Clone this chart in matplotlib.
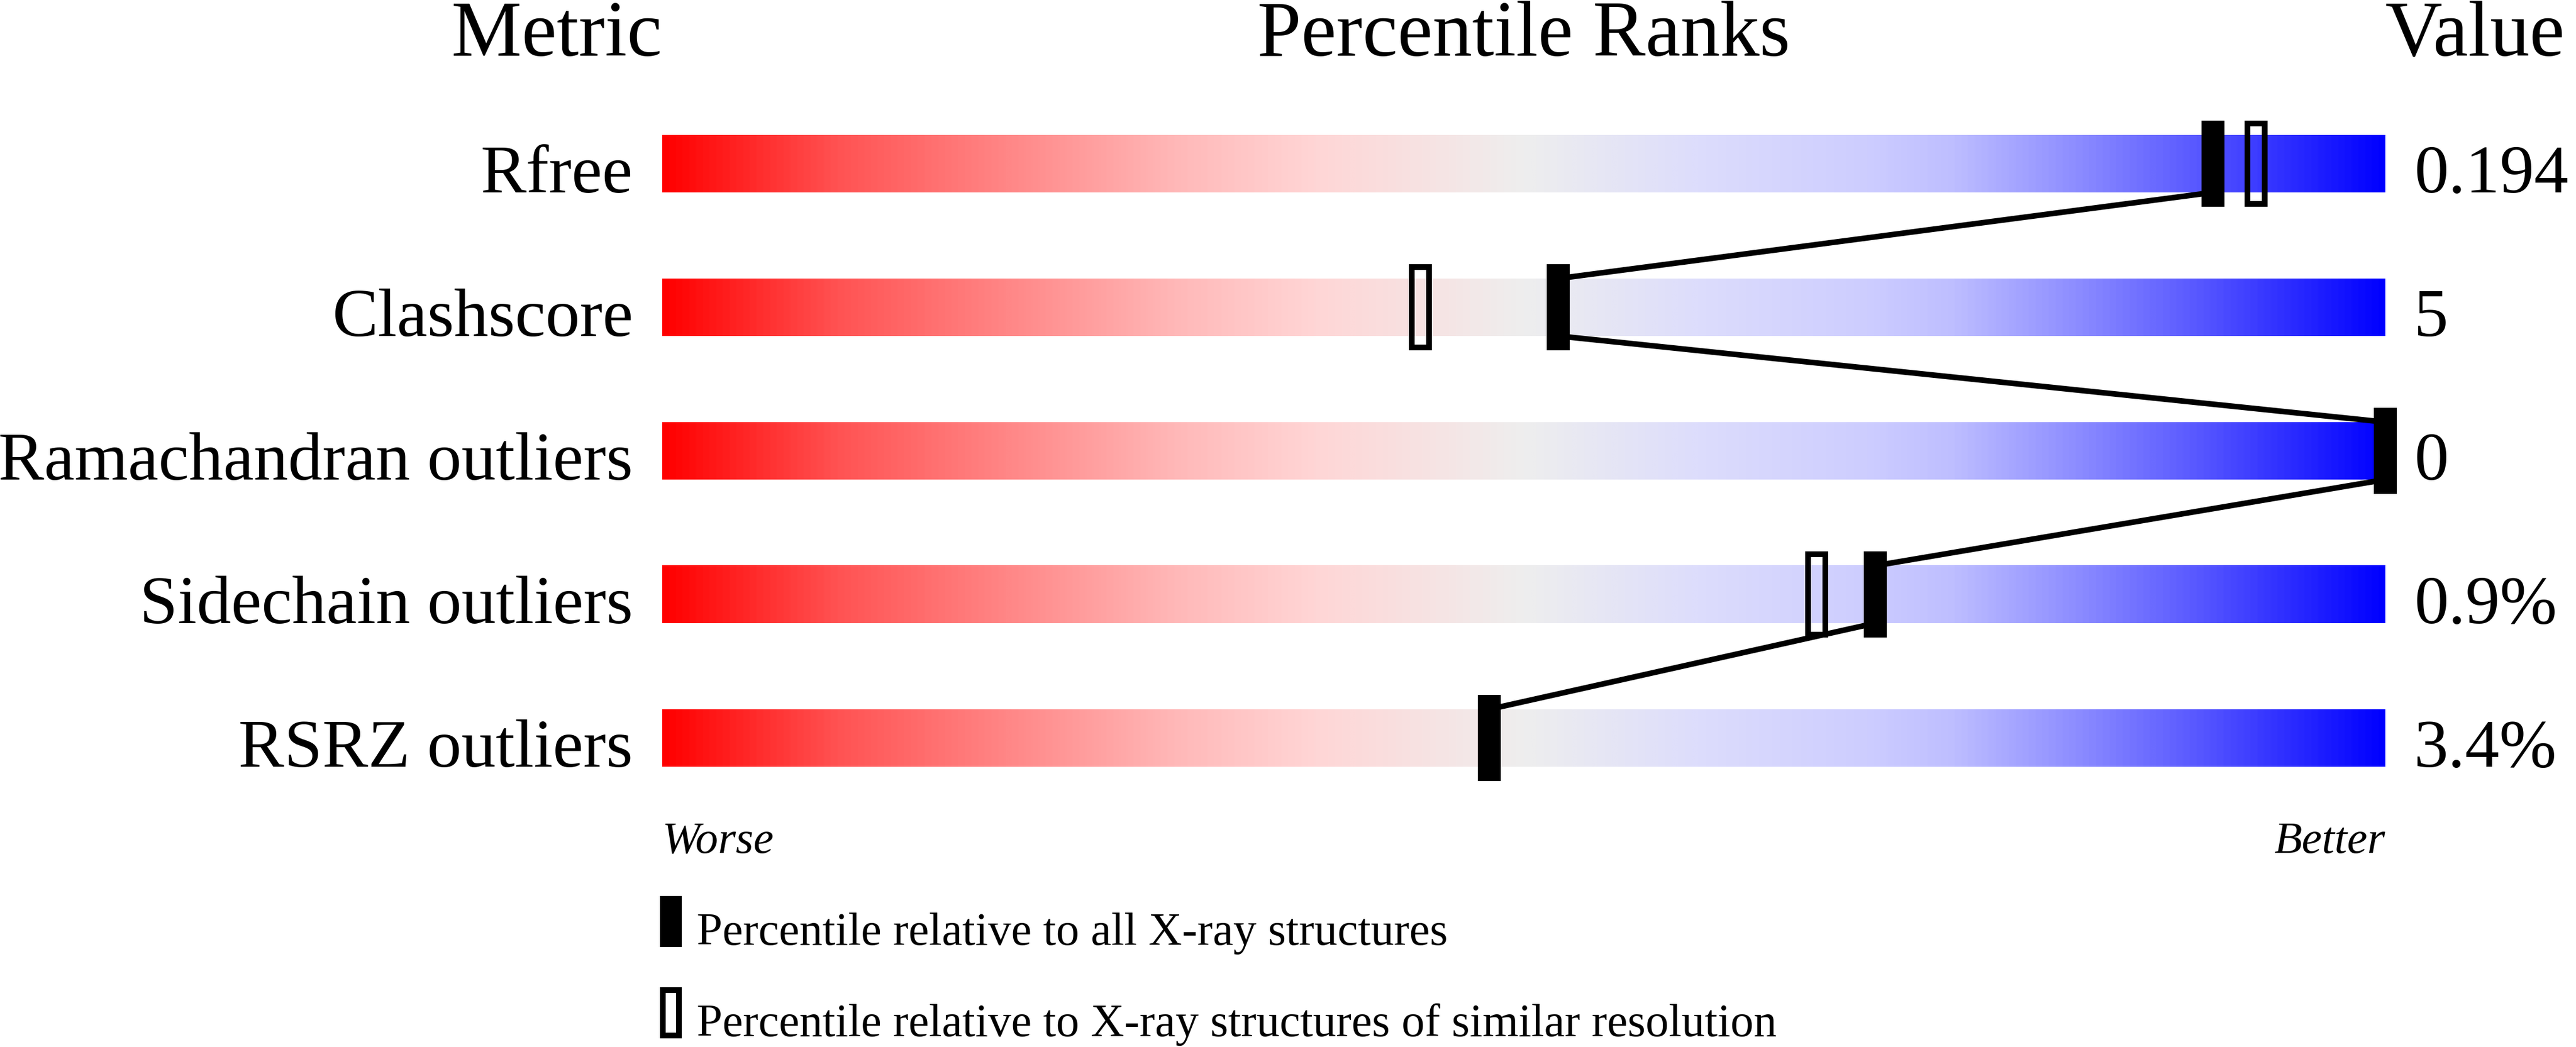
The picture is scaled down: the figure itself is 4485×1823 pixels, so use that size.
import numpy as np
import matplotlib
matplotlib.use("Agg")
import matplotlib.pyplot as plt
from matplotlib.colors import LinearSegmentedColormap
from matplotlib.patches import Rectangle

# ---- data ----
metrics = ["Rfree", "Clashscore", "Ramachandran outliers", "Sidechain outliers", "RSRZ outliers"]
values = ["0.194", "5", "0", "0.9%", "3.4%"]
pct_all = [90, 52, 100, 70.4, 48]
pct_similar = [92.5, 44, None, 67, None]
headers = ["Metric", "Percentile Ranks", "Value"]
legend_labels = ["Percentile relative to all X-ray structures",
                 "Percentile relative to X-ray structures of similar resolution"]

plt.rcParams['font.family'] = ['Liberation Serif', 'DejaVu Serif']

W, H = 4485, 1824
DPI = 100
fig = plt.figure(figsize=(W / DPI, H / DPI), dpi=DPI)
ax = fig.add_axes([0, 0, 1, 1])
ax.set_axis_off()

# pixel mapping: x 0..100 -> px 1153..4153 ; row i -> px 286 + 250*i
px_per_x = 30.0
x0_px = 1153.0
row0_px = 286.0
row_px = 250.0
xlim = (-x0_px / px_per_x, (W - x0_px) / px_per_x)
ylim = ((H - row0_px) / row_px, -row0_px / row_px)

nodes = [
    (0.00, (255, 0, 0)),
    (0.10, (255, 82, 82)),
    (0.20, (255, 135, 135)),
    (0.30, (255, 185, 185)),
    (0.38, (255, 214, 214)),
    (0.45, (246, 228, 228)),
    (0.50, (238, 238, 238)),
    (0.60, (221, 221, 252)),
    (0.70, (205, 205, 255)),
    (0.75, (190, 190, 255)),
    (0.82, (142, 142, 255)),
    (0.90, (82, 82, 255)),
    (1.00, (0, 0, 255)),
]
cmap = LinearSegmentedColormap.from_list(
    "pdb", [(p, tuple(c / 255 for c in col)) for p, col in nodes])
grad = np.linspace(0, 1, 1024).reshape(1, -1)

bar_h = 0.4
mk_h = 0.6
mk_w = 40 / px_per_x
lw_px = 10
lw_pt = lw_px * 72 / DPI

for i in range(len(metrics)):
    ax.imshow(grad, cmap=cmap, extent=(0, 100, i + bar_h / 2, i - bar_h / 2),
              aspect='auto', interpolation='bilinear', zorder=1)

# connecting line
for i in range(len(metrics) - 1):
    ax.plot([pct_all[i], pct_all[i + 1]], [i + bar_h / 2, i + 1 - bar_h / 2],
            color='black', lw=7, solid_capstyle='butt', zorder=3.5)

for i in range(len(metrics)):
    p = pct_all[i]
    ax.add_patch(Rectangle((p - mk_w / 2, i - mk_h / 2), mk_w, mk_h,
                           facecolor='black', edgecolor='none', zorder=4))
    ps = pct_similar[i]
    if ps is not None:
        inset_x = (lw_px / 2) / px_per_x
        inset_y = (lw_px / 2) / row_px
        ax.add_patch(Rectangle((ps - mk_w / 2 + inset_x, i - mk_h / 2 + inset_y),
                               mk_w - 2 * inset_x, mk_h - 2 * inset_y,
                               facecolor='none', edgecolor='black', lw=lw_pt,
                               joinstyle='miter', zorder=3))

base_off = 49 / row_px
for i, (m, v) in enumerate(zip(metrics, values)):
    ax.text(-51 / px_per_x, i + base_off, m, ha='right', va='baseline', fontsize=86)
    ax.text(101.67, i + base_off, v, ha='left', va='baseline', fontsize=86)

hy = (97 - row0_px) / row_px
ax.text(0, hy, headers[0], ha='right', va='baseline', fontsize=99)
ax.text(50, hy, headers[1], ha='center', va='baseline', fontsize=99)
ax.text(100, hy, headers[2], ha='left', va='baseline', fontsize=99)

wy = (1485 - row0_px) / row_px
ax.text(0, wy, "Worse", ha='left', va='baseline', fontsize=57, style='italic')
ax.text(100, wy, "Better", ha='right', va='baseline', fontsize=57, style='italic')

# legend
leg_tops = [1561, 1720]
leg_base = [1645, 1804]
lx = (1149 - x0_px) / px_per_x
lw_leg = 38 / px_per_x
lh_leg = 89 / row_px
for k in range(2):
    ty = (leg_tops[k] - row0_px) / row_px
    if k == 0:
        ax.add_patch(Rectangle((lx, ty), lw_leg, lh_leg, facecolor='black',
                               edgecolor='none', zorder=4))
    else:
        ix = (lw_px / 2) / px_per_x
        iy = (lw_px / 2) / row_px
        ax.add_patch(Rectangle((lx + ix, ty + iy), lw_leg - 2 * ix, lh_leg - 2 * iy,
                               facecolor='none', edgecolor='black', lw=lw_pt,
                               joinstyle='miter', zorder=4))
    ax.text((1213 - x0_px) / px_per_x, (leg_base[k] - row0_px) / row_px, legend_labels[k],
            ha='left', va='baseline', fontsize=58)

ax.set_xlim(*xlim)
ax.set_ylim(*ylim)

fig.savefig("out.png", dpi=DPI, facecolor='white')
